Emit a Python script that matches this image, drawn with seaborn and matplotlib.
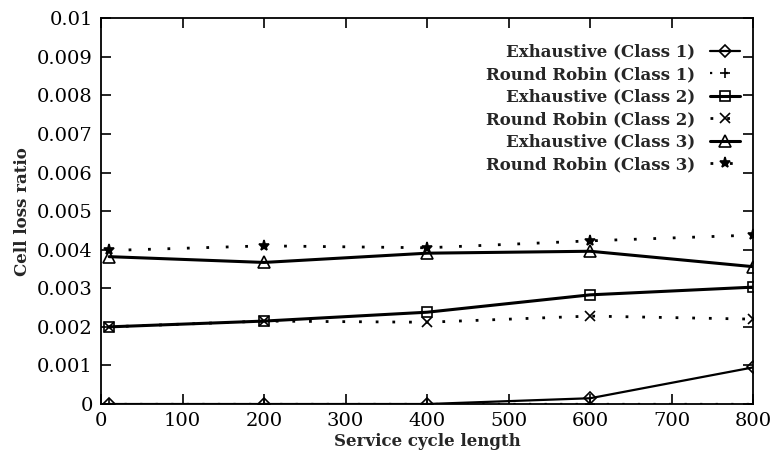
import matplotlib
matplotlib.use("Agg")
import matplotlib.pyplot as plt
import seaborn as sns
import pandas as pd

cycle = [10, 200, 400, 600, 800]
exh_c1 = [0.0, 0.0, 0.0, 0.00015, 0.00095]
rr_c1 = [0.0, 0.0, 0.0, 0.0, 0.0]
exh_c2 = [0.0020, 0.00215, 0.00238, 0.00283, 0.00303]
rr_c2 = [0.0020, 0.00215, 0.00212, 0.00228, 0.00220]
exh_c3 = [0.00382, 0.00367, 0.00391, 0.00396, 0.00356]
rr_c3 = [0.00398, 0.00410, 0.00405, 0.00423, 0.00438]

labels = ["Exhaustive (Class 1)", "Round Robin (Class 1)",
          "Exhaustive (Class 2)", "Round Robin (Class 2)",
          "Exhaustive (Class 3)", "Round Robin (Class 3)"]
series = [exh_c1, rr_c1, exh_c2, rr_c2, exh_c3, rr_c3]

sns.set_theme(style="ticks")
plt.rcParams["font.family"] = ["DejaVu Serif"]

fig = plt.figure(figsize=(7.71, 4.62), dpi=100)
ax = fig.add_axes([0.131, 0.1255, 0.846, 0.835])

styles = [
    dict(marker="D", ls="-", lw=1.6, ms=6, fc="none"),
    dict(marker="+", ls=(0, (1, 6)), lw=1.6, ms=7, fc="none"),
    dict(marker="s", ls="-", lw=2.2, ms=7, fc="none"),
    dict(marker="x", ls=(0, (1, 5)), lw=2.0, ms=7, fc="none"),
    dict(marker="^", ls="-", lw=2.2, ms=8, fc="none"),
    dict(marker="*", ls=(0, (1, 6)), lw=2.0, ms=8, fc="black"),
]

for lab, vals, st in zip(labels, series, styles):
    df = pd.DataFrame({"x": cycle, "y": vals})
    sns.lineplot(data=df, x="x", y="y", ax=ax, color="black", label=lab,
                 marker=st["marker"], linestyle=st["ls"], linewidth=st["lw"],
                 markersize=st["ms"], markerfacecolor=st["fc"],
                 markeredgecolor="black", markeredgewidth=1.2)

ax.set_xlim(0, 800)
ax.set_ylim(0, 0.01)
ax.set_xticks([0, 100, 200, 300, 400, 500, 600, 700, 800])
yt = [0, 0.001, 0.002, 0.003, 0.004, 0.005, 0.006, 0.007, 0.008, 0.009, 0.01]
ax.set_yticks(yt)
ax.set_yticklabels(["0", "0.001", "0.002", "0.003", "0.004", "0.005",
                    "0.006", "0.007", "0.008", "0.009", "0.01"])
ax.tick_params(direction="in", length=7, width=1.2, top=True, right=True,
               labelsize=14, colors="black", pad=6)
for s in ax.spines.values():
    s.set_color("black")
    s.set_linewidth(1.3)
ax.set_xlabel("Service cycle length", fontsize=12, fontweight="bold", labelpad=2)
ax.set_ylabel("Cell loss ratio", fontsize=12, fontweight="bold")
ax.yaxis.set_label_coords(-0.108, 0.5)

leg = ax.legend(loc="upper right", bbox_to_anchor=(0.995, 0.96), frameon=False,
                markerfirst=False, fontsize=12, handlelength=1.8,
                labelspacing=0.33, handletextpad=0.9, borderaxespad=0.2)
for t in leg.get_texts():
    t.set_fontweight("bold")

fig.savefig("out.png", dpi=100)
